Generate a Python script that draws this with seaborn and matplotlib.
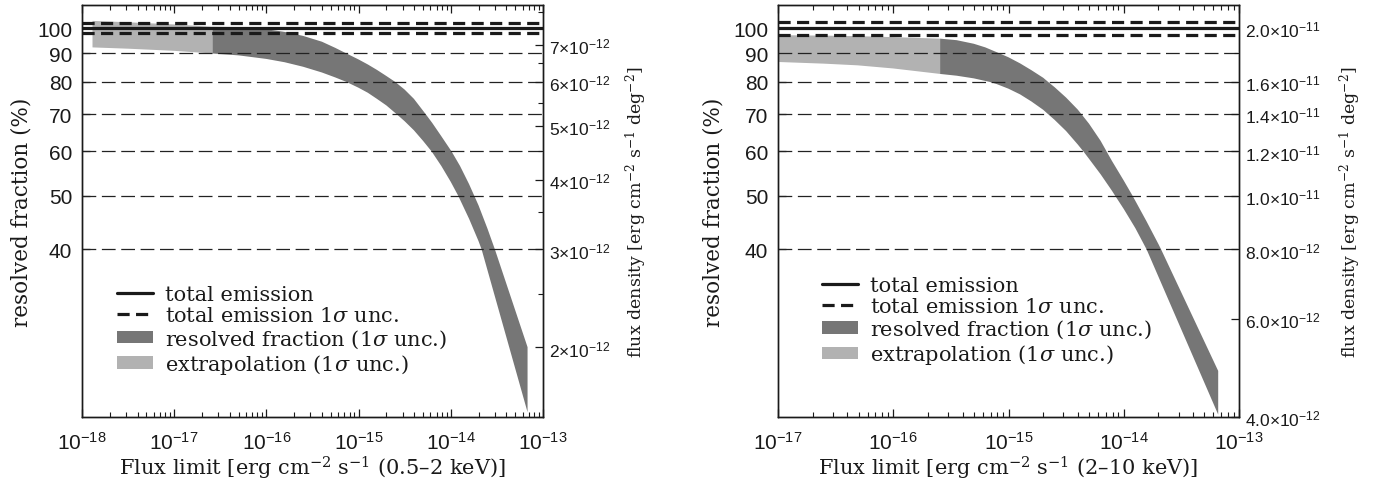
import numpy as np
import matplotlib
matplotlib.use("Agg")
import matplotlib.pyplot as plt
from matplotlib.lines import Line2D
from matplotlib.patches import Patch
from matplotlib.ticker import (FixedLocator, FixedFormatter, NullFormatter,
                               NullLocator, LogLocator, LogFormatterSciNotation)
import seaborn as sns

sns.set_theme(style="ticks")
plt.rcParams["font.family"] = ["Liberation Sans", "DejaVu Sans"]
plt.rcParams["mathtext.fontset"] = "custom"
plt.rcParams["mathtext.rm"] = "Liberation Sans"
plt.rcParams["mathtext.it"] = "Liberation Sans:italic"
plt.rcParams["mathtext.bf"] = "Liberation Sans:bold"

SERIF = ["DejaVu Serif"]

# ---------------- soft band (0.5-2 keV) ----------------
soft_total_flux = 7.5e-12          # erg cm^-2 s^-1 deg^-2 (= 100 %)
soft_total_unc = 2.0               # percent
soft_decades = [1e-18, 1e-17, 1e-16, 1e-15, 1e-14, 1e-13]

soft_extrap_flux = [1.3e-18, 3.2e-18, 1.0e-17, 2.6e-17]
soft_extrap_lo = [92.3, 91.8, 91.0, 90.0]
soft_extrap_hi = [103.0, 102.4, 101.5, 100.5]

soft_hi_flux = [2.6e-17, 5.0e-17, 1.0e-16, 1.58e-16, 2.5e-16, 4.0e-16,
                5.6e-16, 7.4e-16, 1.0e-15, 1.26e-15, 1.58e-15, 2.0e-15,
                2.5e-15, 3.16e-15, 3.98e-15, 5.35e-15, 6.3e-15, 7.9e-15,
                1.02e-14, 1.26e-14, 1.58e-14, 2.0e-14, 2.5e-14, 3.01e-14,
                6.8e-14]
soft_hi = [100.5, 100.4, 99.5, 98.4, 96.8, 94.5,
           92.1, 90.0, 87.8, 86.0, 84.1, 82.0,
           80.0, 77.5, 74.6, 70.0, 67.5, 63.9,
           60.0, 56.5, 52.4, 48.0, 43.6, 40.0,
           26.7]
soft_lo_flux = [2.6e-17, 5.0e-17, 1.0e-16, 1.58e-16, 2.5e-16, 4.0e-16,
                5.6e-16, 7.4e-16, 1.0e-15, 1.26e-15, 1.58e-15, 2.0e-15,
                2.59e-15, 3.16e-15, 3.98e-15, 5.0e-15, 6.2e-15, 7.9e-15,
                1.0e-14, 1.2e-14, 1.58e-14, 2.0e-14, 2.16e-14, 6.8e-14]
soft_lo = [90.0, 89.3, 88.0, 86.8, 85.2, 83.2,
           81.5, 80.0, 78.1, 76.5, 74.6, 72.6,
           70.0, 68.0, 65.5, 62.7, 60.0, 56.5,
           52.9, 50.0, 45.4, 41.4, 40.0, 20.4]

soft_right_ticks = [7e-12, 6e-12, 5e-12, 4e-12, 3e-12, 2e-12]
soft_right_labels = [r"$7{\times}10^{-12}$", r"$6{\times}10^{-12}$",
                     r"$5{\times}10^{-12}$", r"$4{\times}10^{-12}$",
                     r"$3{\times}10^{-12}$", r"$2{\times}10^{-12}$"]
soft_right_minor = [8.0e-12, 7.5e-12, 6.5e-12, 5.5e-12, 4.5e-12, 3.5e-12,
                    2.5e-12, 1.5e-12]

# ---------------- hard band (2-10 keV) ----------------
hard_total_flux = 2.0e-11
hard_total_unc = 2.7
hard_decades = [1e-17, 1e-16, 1e-15, 1e-14, 1e-13]

hard_extrap_flux = [1.0e-17, 2.5e-17, 4.9e-17, 1.0e-16, 2.55e-16]
hard_extrap_lo = [86.9, 86.3, 85.7, 84.6, 82.7]
hard_extrap_hi = [97.1, 96.9, 96.7, 96.3, 95.7]

hard_hi_flux = [2.55e-16, 3.55e-16, 5.0e-16, 6.3e-16, 8.4e-16, 1.0e-15,
                1.26e-15, 1.58e-15, 2.0e-15, 2.21e-15, 2.51e-15, 3.16e-15,
                3.98e-15, 4.3e-15, 5.0e-15, 6.3e-15, 7.1e-15, 7.9e-15,
                1.0e-14, 1.19e-14, 1.58e-14, 2.0e-14, 2.11e-14, 6.6e-14]
hard_hi = [95.7, 95.1, 93.7, 92.3, 90.0, 88.6,
           86.4, 84.0, 81.4, 80.0, 78.3, 75.0,
           71.4, 70.0, 67.3, 62.7, 60.0, 57.7,
           53.2, 50.0, 44.9, 40.9, 40.0, 24.2]
hard_lo_flux = [2.55e-16, 3.55e-16, 5.0e-16, 6.9e-16, 7.9e-16, 1.0e-15,
                1.26e-15, 1.58e-15, 2.0e-15, 2.21e-15, 2.51e-15, 3.16e-15,
                3.98e-15, 4.47e-15, 5.0e-15, 6.3e-15, 7.9e-15, 8.4e-15,
                1.0e-14, 1.26e-14, 1.58e-14, 6.6e-14]
hard_lo = [82.7, 82.1, 81.2, 80.0, 79.3, 77.8,
           76.0, 73.8, 71.3, 70.0, 68.4, 65.3,
           61.8, 60.0, 58.2, 54.6, 51.0, 50.0,
           47.3, 43.7, 40.0, 20.2]

hard_right_ticks = [2.0e-11, 1.6e-11, 1.4e-11, 1.2e-11, 1.0e-11, 8.0e-12,
                    6.0e-12, 4.0e-12]
hard_right_labels = [r"$2.0{\times}10^{-11}$", r"$1.6{\times}10^{-11}$",
                     r"$1.4{\times}10^{-11}$", r"$1.2{\times}10^{-11}$",
                     r"$1.0{\times}10^{-11}$", r"$8.0{\times}10^{-12}$",
                     r"$6.0{\times}10^{-12}$", r"$4.0{\times}10^{-12}$"]
hard_right_minor = [1.8e-11]

# ---------------- shared ----------------
percent_ticks = [100, 90, 80, 70, 60, 50, 40]
grid_levels = [90, 80, 70, 60, 50, 40]
ylim_percent = (20, 110)

dark = "#767676"
light = "#b2b2b2"

legend_labels = ["total emission",
                 r"total emission 1$\sigma$ unc.",
                 r"resolved fraction (1$\sigma$ unc.)",
                 r"extrapolation (1$\sigma$ unc.)"]

fig = plt.figure(figsize=(13.74, 4.81), dpi=100)
W, H = 1374.0, 481.0


def band(ax, xf_hi, y_hi, xf_lo, y_lo, color):
    xs = np.concatenate([np.asarray(xf_hi), np.asarray(xf_lo)[::-1]])
    ys = np.concatenate([np.asarray(y_hi), np.asarray(y_lo)[::-1]])
    ax.fill(xs, ys, color=color, lw=0, zorder=1)


def panel(left_px, decades, total_flux, unc, ex_f, ex_lo, ex_hi,
          hi_f, hi, lo_f, lo, rt, rl, rminor, band_name, leg_xy,
          ylab_x, rlab_x):
    ax = fig.add_axes([left_px / W, 63 / H, 461 / W, 412 / H])
    ax.set_xscale("log")
    ax.set_yscale("log")
    ax.set_xlim(decades[0], decades[-1])
    ax.set_ylim(*ylim_percent)

    band(ax, ex_f, ex_hi, ex_f, ex_lo, light)
    band(ax, hi_f, hi, lo_f, lo, dark)

    for g in grid_levels:
        ax.axhline(g, color="#222222", lw=0.9, dashes=(11, 4.5), zorder=2)
    ax.axhline(100, color="k", lw=2.3, zorder=3)
    for s in (-1, 1):
        ax.axhline(100 + s * unc, color="k", lw=2.3, dashes=(3.8, 2.0),
                   zorder=3)

    for sp in ax.spines.values():
        sp.set_color("k")
        sp.set_linewidth(1.0)
    ax.xaxis.set_major_locator(FixedLocator(decades))
    ax.xaxis.set_minor_locator(LogLocator(base=10, subs=np.arange(2, 10),
                                          numticks=20))
    ax.xaxis.set_major_formatter(LogFormatterSciNotation())
    ax.xaxis.set_minor_formatter(NullFormatter())
    ax.yaxis.set_major_locator(FixedLocator(percent_ticks))
    ax.yaxis.set_major_formatter(FixedFormatter([str(p) for p in percent_ticks]))
    ax.yaxis.set_minor_locator(NullLocator())
    ax.tick_params(axis="x", which="both", direction="in", top=True,
                   bottom=True, color="k", labelsize=15, pad=10,
                   labelcolor="k")
    ax.tick_params(axis="x", which="major", length=6, width=0.9)
    ax.tick_params(axis="x", which="minor", length=3.5, width=0.8)
    ax.tick_params(axis="y", which="major", direction="in", length=6,
                   width=0.9, right=False, color="k", labelsize=15, pad=7,
                   labelcolor="k")

    ax.set_xlabel(r"Flux limit [erg cm$^{-2}$ s$^{-1}$ (" + band_name
                  + " keV)]", fontsize=15, family=SERIF,
                  math_fontfamily="dejavuserif", labelpad=1, color="k")
    ax.set_ylabel("resolved fraction (%)", fontsize=15.5, family=SERIF,
                  color="k")
    ax.yaxis.set_label_coords(ylab_x, 0.5)

    # flux density axis
    ax2 = ax.twinx()
    ax2.set_yscale("log")
    ax2.set_ylim(ylim_percent[0] * total_flux / 100,
                 ylim_percent[1] * total_flux / 100)
    ax2.yaxis.set_major_locator(FixedLocator(rt))
    ax2.yaxis.set_major_formatter(FixedFormatter(rl))
    ax2.yaxis.set_minor_locator(FixedLocator(rminor))
    ax2.yaxis.set_minor_formatter(NullFormatter())
    ax2.tick_params(axis="y", which="both", direction="in", color="k",
                    labelsize=12.5, pad=4, labelcolor="k")
    ax2.tick_params(axis="y", which="major", length=6, width=0.9)
    ax2.tick_params(axis="y", which="minor", length=3.5, width=0.8)
    for sp in ax2.spines.values():
        sp.set_color("k")
        sp.set_linewidth(1.0)
    ax2.set_ylabel(r"flux density [erg cm$^{-2}$ s$^{-1}$ deg$^{-2}$]",
                   fontsize=12.5, family=SERIF, math_fontfamily="dejavuserif",
                   color="k")
    ax2.yaxis.set_label_coords(rlab_x, 0.5)

    handles = [Line2D([], [], color="k", lw=2.3),
               Line2D([], [], color="k", lw=2.3, dashes=(3.8, 2.0)),
               Patch(facecolor=dark, edgecolor="none"),
               Patch(facecolor=light, edgecolor="none")]
    leg = ax.legend(handles, legend_labels, loc="upper left",
                    bbox_to_anchor=leg_xy, frameon=False,
                    prop={"family": SERIF, "size": 15},
                    borderpad=0, borderaxespad=0, handlelength=1.75,
                    handleheight=0.55, handletextpad=0.55, labelspacing=0.1)
    for t in leg.get_texts():
        t.set_math_fontfamily("dejavuserif")
        t.set_color("k")
    return ax, ax2


panel(82, soft_decades, soft_total_flux, soft_total_unc,
      soft_extrap_flux, soft_extrap_lo, soft_extrap_hi,
      soft_hi_flux, soft_hi, soft_lo_flux, soft_lo,
      soft_right_ticks, soft_right_labels, soft_right_minor,
      "0.5–2", (0.076, 0.32), -0.108, 1.176)
panel(778, hard_decades, hard_total_flux, hard_total_unc,
      hard_extrap_flux, hard_extrap_lo, hard_extrap_hi,
      hard_hi_flux, hard_hi, hard_lo_flux, hard_lo,
      hard_right_ticks, hard_right_labels, hard_right_minor,
      "2–10", (0.095, 0.343), -0.115, 1.215)

fig.savefig("out.png", dpi=100, facecolor="white")
